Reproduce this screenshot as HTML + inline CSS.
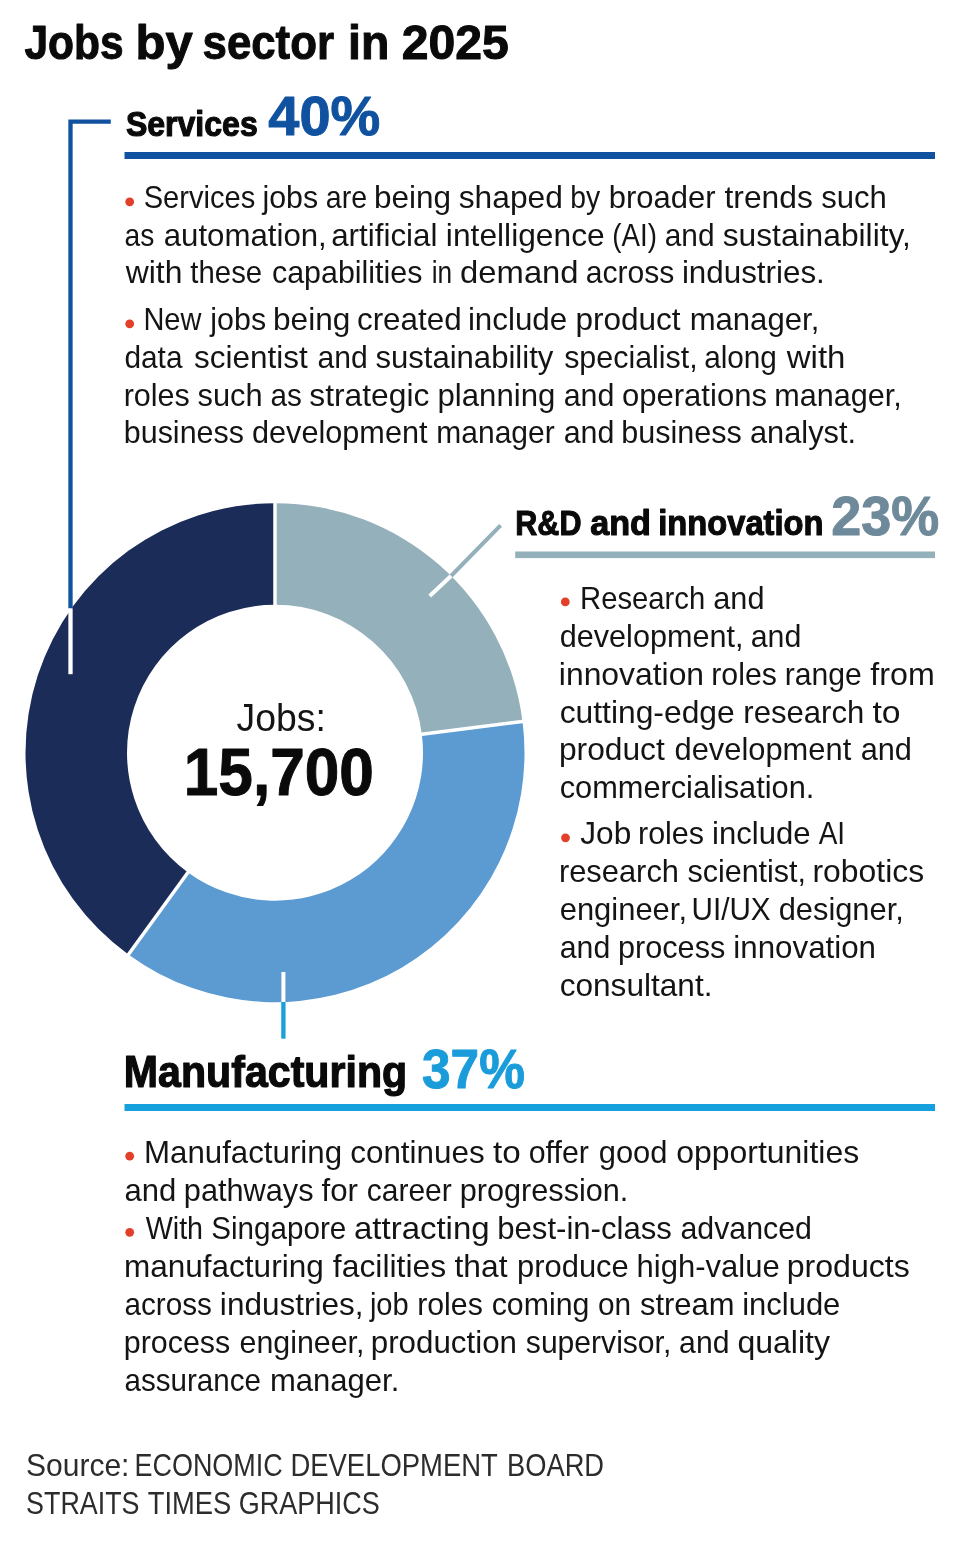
<!DOCTYPE html>
<html lang="en">
<head>
<meta charset="utf-8">
<title>Jobs by sector in 2025</title>
<style>
html,body{margin:0;padding:0;background:#fff;}
body{width:960px;height:1558px;overflow:hidden;font-family:"Liberation Sans", Arial, Helvetica, sans-serif;}
svg{display:block;}
svg text{font-family:"Liberation Sans", Arial, Helvetica, sans-serif;}
</style>
</head>
<body>
<svg role="img" aria-label="Jobs by sector in 2025" width="960" height="1558" viewBox="0 0 960 1558">
<rect width="960" height="1558" fill="#fff"/>
<g id="donut">
<path d="M275.00 503.20A249.5 249.5 0 0 1 522.53 721.43L421.83 734.15A148 148 0 0 0 275.00 604.70Z" fill="#94b0ba"/>
<path d="M522.53 721.43A249.5 249.5 0 0 1 128.35 954.55L188.01 872.43A148 148 0 0 0 421.83 734.15Z" fill="#5c9bd2"/>
<path d="M128.35 954.55A249.5 249.5 0 0 1 275.00 503.20L275.00 604.70A148 148 0 0 0 188.01 872.43Z" fill="#1b2c59"/>
<line x1="275.00" y1="606.70" x2="275.00" y2="501.20" stroke="#fff" stroke-width="3.5"/>
<line x1="419.85" y1="734.40" x2="524.52" y2="721.18" stroke="#fff" stroke-width="3.5"/>
<line x1="189.18" y1="870.82" x2="127.17" y2="956.17" stroke="#fff" stroke-width="3.5"/>
</g>
<g id="leaders">
<path d="M110.8 121.6H70.5V608.4" fill="none" stroke="#10529f" stroke-width="4.3"/>
<line x1="70.5" y1="608.4" x2="70.5" y2="674.2" stroke="#fff" stroke-width="4.3"/>
<line x1="500.6" y1="525.3" x2="451" y2="576" stroke="#94b0ba" stroke-width="4"/>
<line x1="451" y1="576" x2="429.7" y2="596" stroke="#fff" stroke-width="4"/>
<line x1="283.4" y1="972" x2="283.4" y2="1002" stroke="#fff" stroke-width="4"/>
<line x1="283.4" y1="1002" x2="283.4" y2="1038.7" stroke="#19a1d9" stroke-width="4.3"/>
</g>
<g id="rules">
<rect x="124.5" y="152" width="810.5" height="7" fill="#10529f"/>
<rect x="515.2" y="551.5" width="419.8" height="6.6" fill="#94b0ba"/>
<rect x="124.5" y="1104" width="810.5" height="7" fill="#16a0dd"/>
</g>
<g id="headings">
<text y="58.8" font-size="48" font-weight="700" fill="#0a0a0a" stroke="#0a0a0a" stroke-width="1" stroke-linejoin="round"><tspan x="24.46" textLength="99.08" lengthAdjust="spacingAndGlyphs">Jobs</tspan> <tspan x="135.57" textLength="57.19" lengthAdjust="spacingAndGlyphs">by</tspan> <tspan x="202.56" textLength="131.40" lengthAdjust="spacingAndGlyphs">sector</tspan> <tspan x="348.05" textLength="41.33" lengthAdjust="spacingAndGlyphs">in</tspan> <tspan x="401.73" textLength="107.11" lengthAdjust="spacingAndGlyphs">2025</tspan></text>
<text y="135.5" font-size="35.5" font-weight="700" fill="#0a0a0a" stroke="#0a0a0a" stroke-width="1.2" stroke-linejoin="round"><tspan x="125.88" textLength="131.84" lengthAdjust="spacingAndGlyphs">Services</tspan></text>
<text y="135.2" font-size="56.3" font-weight="700" fill="#10529f" stroke="#10529f" stroke-width="1" stroke-linejoin="round"><tspan x="268.35" textLength="111.92" lengthAdjust="spacingAndGlyphs">40%</tspan></text>
<text y="534.5" font-size="34.5" font-weight="700" fill="#0a0a0a" stroke="#0a0a0a" stroke-width="1.1" stroke-linejoin="round"><tspan x="515.31" textLength="66.12" lengthAdjust="spacingAndGlyphs">R&amp;D</tspan> <tspan x="590.25" textLength="60.75" lengthAdjust="spacingAndGlyphs">and</tspan> <tspan x="658.27" textLength="165.21" lengthAdjust="spacingAndGlyphs">innovation</tspan></text>
<text y="534.6" font-size="56.3" font-weight="700" fill="#6e8a9a" stroke="#6e8a9a" stroke-width="1" stroke-linejoin="round"><tspan x="831.33" textLength="107.99" lengthAdjust="spacingAndGlyphs">23%</tspan></text>
<text y="1087.1" font-size="44.6" font-weight="700" fill="#0a0a0a" stroke="#0a0a0a" stroke-width="1.2" stroke-linejoin="round"><tspan x="123.85" textLength="283.30" lengthAdjust="spacingAndGlyphs">Manufacturing</tspan></text>
<text y="1087.6" font-size="56.3" font-weight="700" fill="#1a9cdb" stroke="#1a9cdb" stroke-width="1" stroke-linejoin="round"><tspan x="422.02" textLength="102.83" lengthAdjust="spacingAndGlyphs">37%</tspan></text>
</g>
<g id="donut-label">
<text y="730.8" font-size="39.6" font-weight="400" fill="#141414"><tspan x="236.62" textLength="89.29" lengthAdjust="spacingAndGlyphs">Jobs:</tspan></text>
<text y="795.4" font-size="66.3" font-weight="700" fill="#0a0a0a" stroke="#0a0a0a" stroke-width="1" stroke-linejoin="round"><tspan x="183.79" textLength="190.06" lengthAdjust="spacingAndGlyphs">15,700</tspan></text>
</g>
<g id="services-text">
<circle cx="129.7" cy="201.8" r="4.4" fill="#e2402a"/>
<text y="208.4" font-size="31.2" font-weight="400" fill="#141414"><tspan x="143.68" textLength="111.57" lengthAdjust="spacingAndGlyphs">Services</tspan> <tspan x="262.44" textLength="55.66" lengthAdjust="spacingAndGlyphs">jobs</tspan> <tspan x="325.79" textLength="41.28" lengthAdjust="spacingAndGlyphs">are</tspan> <tspan x="373.97" textLength="77.06" lengthAdjust="spacingAndGlyphs">being</tspan> <tspan x="458.72" textLength="104.13" lengthAdjust="spacingAndGlyphs">shaped</tspan> <tspan x="570.18" textLength="29.88" lengthAdjust="spacingAndGlyphs">by</tspan> <tspan x="608.80" textLength="106.71" lengthAdjust="spacingAndGlyphs">broader</tspan> <tspan x="724.52" textLength="88.33" lengthAdjust="spacingAndGlyphs">trends</tspan> <tspan x="821.13" textLength="65.68" lengthAdjust="spacingAndGlyphs">such</tspan></text>
<text y="245.8" font-size="31.2" font-weight="400" fill="#141414"><tspan x="124.50" textLength="29.82" lengthAdjust="spacingAndGlyphs">as</tspan> <tspan x="163.67" textLength="163.13" lengthAdjust="spacingAndGlyphs">automation,</tspan> <tspan x="331.17" textLength="106.33" lengthAdjust="spacingAndGlyphs">artificial</tspan> <tspan x="445.88" textLength="158.83" lengthAdjust="spacingAndGlyphs">intelligence</tspan> <tspan x="612.28" textLength="44.64" lengthAdjust="spacingAndGlyphs">(AI)</tspan> <tspan x="664.73" textLength="49.79" lengthAdjust="spacingAndGlyphs">and</tspan> <tspan x="722.72" textLength="188.13" lengthAdjust="spacingAndGlyphs">sustainability,</tspan></text>
<text y="283.2" font-size="31.2" font-weight="400" fill="#141414"><tspan x="125.75" textLength="56.72" lengthAdjust="spacingAndGlyphs">with</tspan> <tspan x="190.36" textLength="71.75" lengthAdjust="spacingAndGlyphs">these</tspan> <tspan x="272.01" textLength="150.39" lengthAdjust="spacingAndGlyphs">capabilities</tspan> <tspan x="431.74" textLength="20.47" lengthAdjust="spacingAndGlyphs">in</tspan> <tspan x="460.12" textLength="118.49" lengthAdjust="spacingAndGlyphs">demand</tspan> <tspan x="585.72" textLength="88.67" lengthAdjust="spacingAndGlyphs">across</tspan> <tspan x="681.90" textLength="142.96" lengthAdjust="spacingAndGlyphs">industries.</tspan></text>
<circle cx="129.7" cy="323.8" r="4.4" fill="#e2402a"/>
<text y="330.4" font-size="31.2" font-weight="400" fill="#141414"><tspan x="143.42" textLength="58.01" lengthAdjust="spacingAndGlyphs">New</tspan> <tspan x="210.34" textLength="55.76" lengthAdjust="spacingAndGlyphs">jobs</tspan> <tspan x="272.96" textLength="77.38" lengthAdjust="spacingAndGlyphs">being</tspan> <tspan x="356.97" textLength="104.66" lengthAdjust="spacingAndGlyphs">created</tspan> <tspan x="467.90" textLength="99.29" lengthAdjust="spacingAndGlyphs">include</tspan> <tspan x="575.47" textLength="105.16" lengthAdjust="spacingAndGlyphs">product</tspan> <tspan x="689.64" textLength="129.66" lengthAdjust="spacingAndGlyphs">manager,</tspan></text>
<text y="367.9" font-size="31.2" font-weight="400" fill="#141414"><tspan x="124.45" textLength="58.05" lengthAdjust="spacingAndGlyphs">data</tspan> <tspan x="194.12" textLength="113.61" lengthAdjust="spacingAndGlyphs">scientist</tspan> <tspan x="317.47" textLength="50.27" lengthAdjust="spacingAndGlyphs">and</tspan> <tspan x="375.38" textLength="177.98" lengthAdjust="spacingAndGlyphs">sustainability</tspan> <tspan x="564.15" textLength="133.58" lengthAdjust="spacingAndGlyphs">specialist,</tspan> <tspan x="704.14" textLength="72.78" lengthAdjust="spacingAndGlyphs">along</tspan> <tspan x="786.75" textLength="58.70" lengthAdjust="spacingAndGlyphs">with</tspan></text>
<text y="405.5" font-size="31.2" font-weight="400" fill="#141414"><tspan x="123.67" textLength="66.18" lengthAdjust="spacingAndGlyphs">roles</tspan> <tspan x="197.54" textLength="65.06" lengthAdjust="spacingAndGlyphs">such</tspan> <tspan x="270.44" textLength="31.33" lengthAdjust="spacingAndGlyphs">as</tspan> <tspan x="309.32" textLength="120.02" lengthAdjust="spacingAndGlyphs">strategic</tspan> <tspan x="437.49" textLength="117.82" lengthAdjust="spacingAndGlyphs">planning</tspan> <tspan x="563.71" textLength="50.75" lengthAdjust="spacingAndGlyphs">and</tspan> <tspan x="622.00" textLength="144.92" lengthAdjust="spacingAndGlyphs">operations</tspan> <tspan x="774.22" textLength="127.53" lengthAdjust="spacingAndGlyphs">manager,</tspan></text>
<text y="443.1" font-size="31.2" font-weight="400" fill="#141414"><tspan x="123.84" textLength="120.06" lengthAdjust="spacingAndGlyphs">business</tspan> <tspan x="252.01" textLength="175.51" lengthAdjust="spacingAndGlyphs">development</tspan> <tspan x="436.31" textLength="118.39" lengthAdjust="spacingAndGlyphs">manager</tspan> <tspan x="563.71" textLength="50.75" lengthAdjust="spacingAndGlyphs">and</tspan> <tspan x="621.33" textLength="120.57" lengthAdjust="spacingAndGlyphs">business</tspan> <tspan x="749.94" textLength="106.17" lengthAdjust="spacingAndGlyphs">analyst.</tspan></text>
</g>
<g id="rd-text">
<circle cx="565.3" cy="601.9" r="4.4" fill="#e2402a"/>
<text y="608.5" font-size="31.2" font-weight="400" fill="#141414"><tspan x="580.10" textLength="125.10" lengthAdjust="spacingAndGlyphs">Research</tspan> <tspan x="713.30" textLength="51.18" lengthAdjust="spacingAndGlyphs">and</tspan></text>
<text y="646.6" font-size="31.2" font-weight="400" fill="#141414"><tspan x="559.71" textLength="183.84" lengthAdjust="spacingAndGlyphs">development,</tspan> <tspan x="750.71" textLength="50.65" lengthAdjust="spacingAndGlyphs">and</tspan></text>
<text y="684.7" font-size="31.2" font-weight="400" fill="#141414"><tspan x="558.87" textLength="145.20" lengthAdjust="spacingAndGlyphs">innovation</tspan> <tspan x="711.29" textLength="65.60" lengthAdjust="spacingAndGlyphs">roles</tspan> <tspan x="784.70" textLength="77.04" lengthAdjust="spacingAndGlyphs">range</tspan> <tspan x="870.34" textLength="64.38" lengthAdjust="spacingAndGlyphs">from</tspan></text>
<text y="722.5" font-size="31.2" font-weight="400" fill="#141414"><tspan x="559.65" textLength="175.06" lengthAdjust="spacingAndGlyphs">cutting-edge</tspan> <tspan x="743.34" textLength="120.98" lengthAdjust="spacingAndGlyphs">research</tspan> <tspan x="872.49" textLength="28.13" lengthAdjust="spacingAndGlyphs">to</tspan></text>
<text y="760.3" font-size="31.2" font-weight="400" fill="#141414"><tspan x="558.95" textLength="105.88" lengthAdjust="spacingAndGlyphs">product</tspan> <tspan x="674.50" textLength="176.72" lengthAdjust="spacingAndGlyphs">development</tspan> <tspan x="860.69" textLength="51.29" lengthAdjust="spacingAndGlyphs">and</tspan></text>
<text y="798.3" font-size="31.2" font-weight="400" fill="#141414"><tspan x="559.69" textLength="254.61" lengthAdjust="spacingAndGlyphs">commercialisation.</tspan></text>
<circle cx="565.5" cy="837.8" r="4.4" fill="#e2402a"/>
<text y="844.4" font-size="31.2" font-weight="400" fill="#141414"><tspan x="580.31" textLength="51.02" lengthAdjust="spacingAndGlyphs">Job</tspan> <tspan x="637.97" textLength="66.13" lengthAdjust="spacingAndGlyphs">roles</tspan> <tspan x="712.12" textLength="98.46" lengthAdjust="spacingAndGlyphs">include</tspan> <tspan x="818.65" textLength="26.44" lengthAdjust="spacingAndGlyphs">AI</tspan></text>
<text y="882.4" font-size="31.2" font-weight="400" fill="#141414"><tspan x="558.95" textLength="120.05" lengthAdjust="spacingAndGlyphs">research</tspan> <tspan x="687.45" textLength="118.59" lengthAdjust="spacingAndGlyphs">scientist,</tspan> <tspan x="812.48" textLength="111.67" lengthAdjust="spacingAndGlyphs">robotics</tspan></text>
<text y="920.4" font-size="31.2" font-weight="400" fill="#141414"><tspan x="559.69" textLength="127.29" lengthAdjust="spacingAndGlyphs">engineer,</tspan> <tspan x="691.46" textLength="79.16" lengthAdjust="spacingAndGlyphs">UI/UX</tspan> <tspan x="778.71" textLength="125.06" lengthAdjust="spacingAndGlyphs">designer,</tspan></text>
<text y="958.4" font-size="31.2" font-weight="400" fill="#141414"><tspan x="559.71" textLength="50.54" lengthAdjust="spacingAndGlyphs">and</tspan> <tspan x="618.03" textLength="107.28" lengthAdjust="spacingAndGlyphs">process</tspan> <tspan x="733.31" textLength="142.73" lengthAdjust="spacingAndGlyphs">innovation</tspan></text>
<text y="996.4" font-size="31.2" font-weight="400" fill="#141414"><tspan x="559.66" textLength="152.83" lengthAdjust="spacingAndGlyphs">consultant.</tspan></text>
</g>
<g id="manufacturing-text">
<circle cx="129.7" cy="1156.2" r="4.4" fill="#e2402a"/>
<text y="1162.8" font-size="31.2" font-weight="400" fill="#141414"><tspan x="144.04" textLength="197.98" lengthAdjust="spacingAndGlyphs">Manufacturing</tspan> <tspan x="350.27" textLength="134.37" lengthAdjust="spacingAndGlyphs">continues</tspan> <tspan x="493.00" textLength="27.70" lengthAdjust="spacingAndGlyphs">to</tspan> <tspan x="528.73" textLength="60.18" lengthAdjust="spacingAndGlyphs">offer</tspan> <tspan x="598.70" textLength="68.79" lengthAdjust="spacingAndGlyphs">good</tspan> <tspan x="676.16" textLength="183.00" lengthAdjust="spacingAndGlyphs">opportunities</tspan></text>
<text y="1200.8" font-size="31.2" font-weight="400" fill="#141414"><tspan x="124.38" textLength="51.82" lengthAdjust="spacingAndGlyphs">and</tspan> <tspan x="183.82" textLength="129.79" lengthAdjust="spacingAndGlyphs">pathways</tspan> <tspan x="321.56" textLength="36.46" lengthAdjust="spacingAndGlyphs">for</tspan> <tspan x="366.73" textLength="85.02" lengthAdjust="spacingAndGlyphs">career</tspan> <tspan x="459.72" textLength="168.67" lengthAdjust="spacingAndGlyphs">progression.</tspan></text>
<circle cx="129.7" cy="1232.3" r="4.4" fill="#e2402a"/>
<text y="1238.9" font-size="31.2" font-weight="400" fill="#141414"><tspan x="145.67" textLength="57.44" lengthAdjust="spacingAndGlyphs">With</tspan> <tspan x="211.15" textLength="135.16" lengthAdjust="spacingAndGlyphs">Singapore</tspan> <tspan x="354.00" textLength="135.63" lengthAdjust="spacingAndGlyphs">attracting</tspan> <tspan x="497.19" textLength="174.73" lengthAdjust="spacingAndGlyphs">best-in-class</tspan> <tspan x="680.41" textLength="131.54" lengthAdjust="spacingAndGlyphs">advanced</tspan></text>
<text y="1276.9" font-size="31.2" font-weight="400" fill="#141414"><tspan x="123.91" textLength="199.83" lengthAdjust="spacingAndGlyphs">manufacturing</tspan> <tspan x="332.85" textLength="113.30" lengthAdjust="spacingAndGlyphs">facilities</tspan> <tspan x="454.52" textLength="53.01" lengthAdjust="spacingAndGlyphs">that</tspan> <tspan x="517.01" textLength="111.77" lengthAdjust="spacingAndGlyphs">produce</tspan> <tspan x="636.60" textLength="143.08" lengthAdjust="spacingAndGlyphs">high-value</tspan> <tspan x="786.68" textLength="123.08" lengthAdjust="spacingAndGlyphs">products</tspan></text>
<text y="1315" font-size="31.2" font-weight="400" fill="#141414"><tspan x="124.44" textLength="87.43" lengthAdjust="spacingAndGlyphs">across</tspan> <tspan x="219.89" textLength="143.74" lengthAdjust="spacingAndGlyphs">industries,</tspan> <tspan x="369.91" textLength="38.81" lengthAdjust="spacingAndGlyphs">job</tspan> <tspan x="417.19" textLength="65.60" lengthAdjust="spacingAndGlyphs">roles</tspan> <tspan x="491.71" textLength="97.74" lengthAdjust="spacingAndGlyphs">coming</tspan> <tspan x="597.95" textLength="33.19" lengthAdjust="spacingAndGlyphs">on</tspan> <tspan x="639.94" textLength="94.60" lengthAdjust="spacingAndGlyphs">stream</tspan> <tspan x="742.13" textLength="98.25" lengthAdjust="spacingAndGlyphs">include</tspan></text>
<text y="1353.2" font-size="31.2" font-weight="400" fill="#141414"><tspan x="123.74" textLength="106.56" lengthAdjust="spacingAndGlyphs">process</tspan> <tspan x="239.51" textLength="124.92" lengthAdjust="spacingAndGlyphs">engineer,</tspan> <tspan x="370.78" textLength="146.25" lengthAdjust="spacingAndGlyphs">production</tspan> <tspan x="525.86" textLength="145.44" lengthAdjust="spacingAndGlyphs">supervisor,</tspan> <tspan x="679.12" textLength="50.33" lengthAdjust="spacingAndGlyphs">and</tspan> <tspan x="737.40" textLength="92.66" lengthAdjust="spacingAndGlyphs">quality</tspan></text>
<text y="1391.4" font-size="31.2" font-weight="400" fill="#141414"><tspan x="124.44" textLength="136.47" lengthAdjust="spacingAndGlyphs">assurance</tspan> <tspan x="269.94" textLength="129.39" lengthAdjust="spacingAndGlyphs">manager.</tspan></text>
</g>
<g id="source">
<text y="1475.7" font-size="31.5" font-weight="400" fill="#2c2c2c"><tspan x="25.94" textLength="103.51" lengthAdjust="spacingAndGlyphs">Source:</tspan> <tspan x="134.49" textLength="148.24" lengthAdjust="spacingAndGlyphs">ECONOMIC</tspan> <tspan x="290.45" textLength="206.87" lengthAdjust="spacingAndGlyphs">DEVELOPMENT</tspan> <tspan x="507.06" textLength="97.04" lengthAdjust="spacingAndGlyphs">BOARD</tspan></text>
<text y="1514.3" font-size="31.5" font-weight="400" fill="#2c2c2c"><tspan x="26.08" textLength="113.45" lengthAdjust="spacingAndGlyphs">STRAITS</tspan> <tspan x="147.69" textLength="83.57" lengthAdjust="spacingAndGlyphs">TIMES</tspan> <tspan x="238.64" textLength="141.10" lengthAdjust="spacingAndGlyphs">GRAPHICS</tspan></text>
</g>
</svg>
</body>
</html>
